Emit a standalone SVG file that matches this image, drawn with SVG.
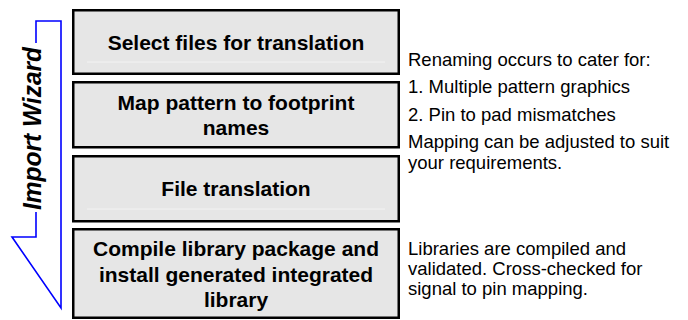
<svg xmlns="http://www.w3.org/2000/svg" width="688" height="320" viewBox="0 0 688 320">
<style>
.box{fill:#e6e6e6;stroke:#000;stroke-width:2.5}
.sheen{stroke:#f3f3f3;stroke-width:1}
.bt{font-family:"Liberation Sans",Arial,sans-serif;font-weight:bold;font-size:21px;fill:#000;text-anchor:middle}
.nt{font-family:"Liberation Sans",Arial,sans-serif;font-size:18.5px;fill:#000}
.arrow{fill:none;stroke:#0000ff;stroke-width:1.6}
.wiz{font-family:"Liberation Sans",Arial,sans-serif;font-weight:bold;font-style:italic;font-size:26px;fill:#000;text-anchor:middle}
</style>
<rect width="688" height="320" fill="#fff"/>
<g id="connectors">
<path class="arrow" d="M36,43 L36,21 L61,21 L61,308 L12,237 L36,237 L36,212"/>
</g>
<g id="import-wizard">
<text class="wiz" transform="translate(41,128.5) rotate(-90)" textLength="163" lengthAdjust="spacingAndGlyphs">Import Wizard</text>
</g>
<g id="step1">
<rect class="box" x="73.25" y="10.25" width="325.5" height="63.5"/>
<line class="sheen" x1="87" y1="62" x2="385" y2="62"/>
<text class="bt" x="236" y="49.5">Select files for translation</text>
</g>
<g id="step2">
<rect class="box" x="73.25" y="82.25" width="325.5" height="65"/>
<text class="bt" x="236" y="109.5">Map pattern to footprint</text>
<text class="bt" x="236" y="134.5">names</text>
</g>
<g id="step3">
<rect class="box" x="73.25" y="156.25" width="325.5" height="65"/>
<line class="sheen" x1="87" y1="209" x2="385" y2="209"/>
<text class="bt" x="236" y="196">File translation</text>
</g>
<g id="step4">
<rect class="box" x="73.25" y="229.25" width="325.5" height="88.5"/>
<text class="bt" x="236" y="256">Compile library package and</text>
<text class="bt" x="236" y="281.5">install generated integrated</text>
<text class="bt" x="236" y="307">library</text>
</g>
<g id="note-renaming">
<text class="nt" x="408" y="65.5">Renaming occurs to cater for:</text>
<text class="nt" x="408" y="93">1. Multiple pattern graphics</text>
<text class="nt" x="408" y="121">2. Pin to pad mismatches</text>
<text class="nt" x="408" y="147.5">Mapping can be adjusted to suit</text>
<text class="nt" x="408" y="168.5">your requirements.</text>
</g>
<g id="note-libraries">
<text class="nt" x="408" y="255">Libraries are compiled and</text>
<text class="nt" x="408" y="275">validated. Cross-checked for</text>
<text class="nt" x="408" y="295">signal to pin mapping.</text>
</g>
</svg>
